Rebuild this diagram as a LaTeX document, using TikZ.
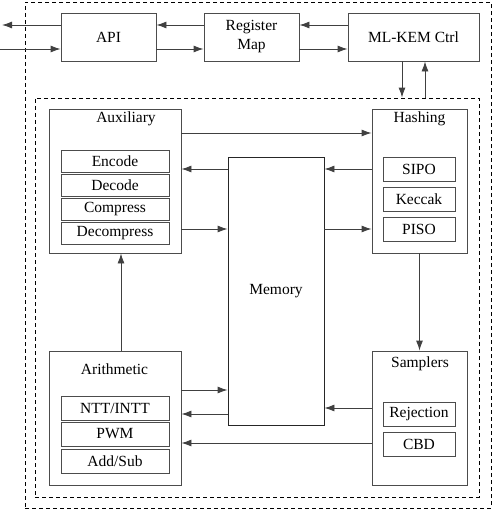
\documentclass[tikz,border=0pt]{standalone}
\usepackage{fontspec}
\setmainfont{Liberation Serif}
\usetikzlibrary{arrows.meta}

\tikzset{
  every node/.style={font=\rmfamily\fontsize{15.5}{19}\selectfont},
  blk/.style={draw=black!70,line width=0.9pt,inner sep=0pt},
  sub/.style={blk,minimum height=22pt},
  dashbox/.style={draw=black,line width=0.9pt,dash pattern=on 4pt off 3pt,inner sep=0pt},
  arr/.style={draw=black!75,line width=0.9pt,-{Latex[length=10pt,width=7pt]}}
}

\begin{document}
\begin{tikzpicture}[x=1pt,y=-1pt]
\useasboundingbox (0,0) rectangle (493,511);

% frames
\node[dashbox,minimum width=466pt,minimum height=506pt] (chip) at (258,255) {};
\node[dashbox,minimum width=444pt,minimum height=399pt] (core) at (257,297.5) {};

% top row
\node[blk,minimum width=95pt,minimum height=48pt] (api) at (108.5,37) {API};
\node[blk,minimum width=95pt,minimum height=48pt,align=center] (reg) at (251.5,37) {Register\\Map};
\node[blk,minimum width=131pt,minimum height=48pt] (ctrl) at (413.5,37) {ML-KEM Ctrl};
\coordinate (outL) at (2,25);
\coordinate (inL) at (0,49);

% auxiliary
\node[blk,minimum width=132pt,minimum height=144pt] (aux) at (115,181) {};
\node (auxt) at (126,119) {Auxiliary};
\node[sub,minimum width=108pt] (enc) at (115,161) {Encode};
\node[sub,minimum width=108pt] (dec) at (115,185) {Decode};
\node[sub,minimum width=108pt] (cmp) at (115,209) {Compress};
\node[sub,minimum width=108pt] (dcmp) at (115,233) {Decompress};

% hashing
\node[blk,minimum width=95pt,minimum height=144pt] (hash) at (419.5,181) {};
\node (hasht) at (419.5,119) {Hashing};
\node[sub,minimum width=72pt,minimum height=24pt] (sipo) at (419,169) {SIPO};
\node[sub,minimum width=72pt,minimum height=24pt] (kec) at (419,199) {Keccak};
\node[sub,minimum width=72pt,minimum height=24pt] (piso) at (419,229) {PISO};

% memory
\node[blk,draw=black!85,minimum width=96pt,minimum height=268pt] (mem) at (276,291) {Memory};

% samplers
\node[blk,minimum width=95pt,minimum height=134pt] (samp) at (419.5,418) {};
\node (sampt) at (420,364) {Samplers};
\node[sub,minimum width=72pt,minimum height=24pt] (rej) at (419,414) {Rejection};
\node[sub,minimum width=72pt,minimum height=24pt] (cbd) at (419,444) {CBD};

% arithmetic
\node[blk,minimum width=132pt,minimum height=134pt] (arith) at (115,418) {};
\node (aritht) at (114.5,369) {Arithmetic};
\node[sub,minimum width=108pt,minimum height=24pt] (ntt) at (115,408) {NTT/INTT};
\node[sub,minimum width=108pt,minimum height=24pt] (pwm) at (115,434) {PWM};
\node[sub,minimum width=108pt,minimum height=24pt] (add) at (115,461) {Add/Sub};

% top connections
\draw[arr] ([yshift=12pt]api.west) -- (outL);
\draw[arr] (inL) -- (inL -| api.west);
\draw[arr] ([yshift=12pt]reg.west) -- ([yshift=12pt]api.east);
\draw[arr] ([yshift=-12pt]api.east) -- ([yshift=-12pt]reg.west);
\draw[arr] ([yshift=12pt]ctrl.west) -- ([yshift=12pt]reg.east);
\draw[arr] ([yshift=-12pt]reg.east) -- ([yshift=-12pt]ctrl.west);
\path ([xshift=-11.5pt]ctrl.south) coordinate (c1);
\path ([xshift=11.5pt]ctrl.south) coordinate (c2);
\draw[arr] (c1) -- (c1 |- core.north);
\draw[arr] (c2 |- core.north) -- (c2);

% core connections
\draw[arr] ([yshift=48pt]aux.east) -- ([yshift=48pt]hash.west);
\draw[arr] (hash.west |- sipo) -- (mem.east |- sipo);
\draw[arr] (mem.west |- sipo) -- (aux.east |- sipo);
\draw[arr] (aux.east |- piso) -- (mem.west |- piso);
\draw[arr] (mem.east |- piso) -- (hash.west |- piso);
\draw[arr] (hash.south) -- (samp.north);
\path ([yshift=10pt]samp.west) coordinate (s1);
\draw[arr] (s1) -- (s1 -| mem.east);
\path ([yshift=-25pt]samp.west) coordinate (s2);
\draw[arr] (s2) -- (s2 -| arith.east);
\path ([yshift=28pt]arith.east) coordinate (a1);
\draw[arr] (a1) -- (a1 -| mem.west);
\path ([yshift=4pt]arith.east) coordinate (a2);
\draw[arr] (a2 -| mem.west) -- (a2);
\draw[arr] ([xshift=6pt]arith.north) -- ([xshift=6pt]aux.south);

\end{tikzpicture}
\end{document}
